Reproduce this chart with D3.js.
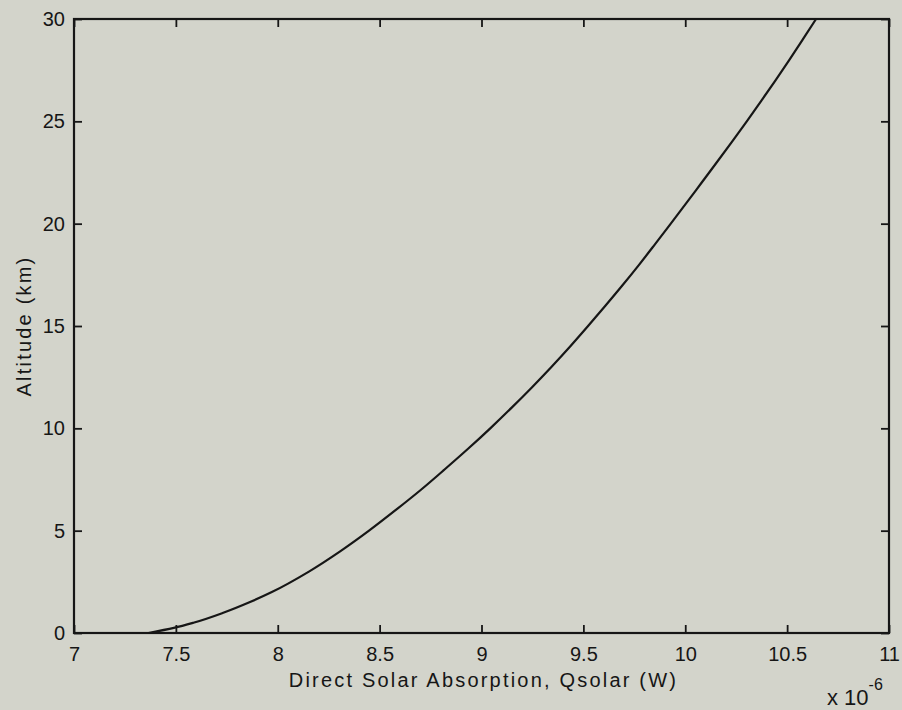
<!DOCTYPE html>
<html>
<head>
<meta charset="utf-8">
<script src="https://cdn.jsdelivr.net/npm/d3@7"></script>
<style>
  html, body { margin: 0; padding: 0; background: #d3d4cb; }
  svg { display: block; }
  text { font-family: "Liberation Sans", Arial, sans-serif; fill: #161616; }
</style>
</head>
<body>
<svg id="chart" width="902" height="710"></svg>
<script>
// Altitude levels (km) and the direct solar absorption at each (units of 1e-6 W)
const altitudeKm = [0, 0.25, 0.5, 1, 1.5, 2, 3, 4, 5, 6, 7, 8, 9, 10, 11, 12, 13,
  14, 15, 16, 17, 18, 19, 20, 21, 22, 23, 24, 25, 26, 27, 28, 29, 30];
const qSolar = [7.365, 7.49, 7.586, 7.736, 7.861, 7.971, 8.153, 8.308, 8.448,
  8.578, 8.703, 8.82, 8.934, 9.043, 9.147, 9.247, 9.343, 9.435, 9.523, 9.609,
  9.693, 9.774, 9.852, 9.929, 10.005, 10.08, 10.155, 10.229, 10.302, 10.373,
  10.443, 10.511, 10.577, 10.642];

const xTicks = [7, 7.5, 8, 8.5, 9, 9.5, 10, 10.5, 11];
const yTicks = [0, 5, 10, 15, 20, 25, 30];

const margin = { left: 74, right: 13, top: 19, bottom: 77 };
const W = 902, H = 710;
const svg = d3.select("#chart");

const x = d3.scaleLinear().domain([7, 11]).range([margin.left, W - margin.right]);
const y = d3.scaleLinear().domain([0, 30]).range([H - margin.bottom, margin.top]);

const ink = "#161616";
const tickLen = 8;
const fontSize = 20;

// Axes: ticks point inward on all four sides (boxed plot)
const gx = svg.append("g").attr("transform", `translate(0,${y(0)})`)
  .call(d3.axisBottom(x).tickValues(xTicks).tickSize(-tickLen).tickPadding(14)
    .tickFormat(d3.format("")));
const gxTop = svg.append("g").attr("transform", `translate(0,${y(30)})`)
  .call(d3.axisTop(x).tickValues(xTicks).tickSize(-tickLen).tickFormat(""));
const gy = svg.append("g").attr("transform", `translate(${x(7)},0)`)
  .call(d3.axisLeft(y).tickValues(yTicks).tickSize(-tickLen).tickPadding(9));
const gyRight = svg.append("g").attr("transform", `translate(${x(11)},0)`)
  .call(d3.axisRight(y).tickValues(yTicks).tickSize(-tickLen).tickFormat(""));

[gx, gxTop, gy, gyRight].forEach(g => {
  g.select(".domain").remove();
  g.selectAll(".tick line").attr("stroke", ink).attr("stroke-width", 1.8);
  g.selectAll(".tick text").attr("font-size", fontSize).attr("fill", ink)
    .style("font-family", '"Liberation Sans", Arial, sans-serif');
});

// Plot frame
svg.append("rect")
  .attr("x", x(7)).attr("y", y(30))
  .attr("width", x(11) - x(7)).attr("height", y(0) - y(30))
  .attr("fill", "none").attr("stroke", ink).attr("stroke-width", 2.2);

// Absorption profile
const line = d3.line()
  .x((d, i) => x(qSolar[i]))
  .y(d => y(d))
  .curve(d3.curveMonotoneY);

svg.append("path")
  .datum(altitudeKm)
  .attr("d", line)
  .attr("fill", "none")
  .attr("stroke", ink)
  .attr("stroke-width", 2.2)
  .attr("stroke-linejoin", "round");

// Axis titles
svg.append("text")
  .attr("x", (x(7) + x(11)) / 2 + 2).attr("y", 687)
  .attr("text-anchor", "middle").attr("font-size", fontSize)
  .attr("letter-spacing", 2.2)
  .text("Direct Solar Absorption, Qsolar (W)");

svg.append("text")
  .attr("transform", `translate(31,${(y(0) + y(30)) / 2}) rotate(-90)`)
  .attr("text-anchor", "middle").attr("font-size", fontSize)
  .attr("letter-spacing", 2.2)
  .text("Altitude (km)");

// Exponent multiplier for the x axis
const mult = svg.append("text").attr("x", 827).attr("y", 705).attr("font-size", 22);
mult.append("tspan").text("x 10");
mult.append("tspan").attr("dy", -15).attr("font-size", 16).text("-6");
</script>
</body>
</html>
